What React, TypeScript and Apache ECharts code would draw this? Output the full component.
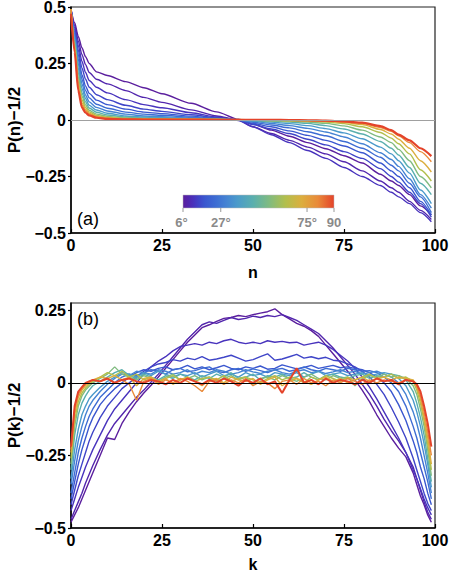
import React, { useEffect, useRef } from "react";
import * as echarts from "echarts";

// ---------- data ----------
const ANGLES = [6, 9, 12, 15, 18, 24, 30, 36, 45, 54, 63, 72, 81, 90];
const COLORS = [
  "#5b1f9e", "#5226ad", "#4833bd", "#3f45c8", "#3a57cf", "#3d6cd3", "#4583d3",
  "#4b9acb", "#5aafae", "#80bb80", "#b2bf4d", "#dcae3e", "#e98a3a", "#e4432a",
];
const BAR_TICKS = [6, 27, 75, 90];
const BAR_LABELS = ["6°", "27°", "75°", "90"];

const N_TOP = [0, 1, 2, 3, 4, 5, 7, 10, 15, 20, 25, 33, 40, 46, 50, 55, 60, 65, 70, 75, 80, 85, 88, 90, 93, 96, 99];
const TOP_06 = [0.49,0.43,0.37,0.32,0.28,0.25,0.213,0.197,0.17,0.143,0.116,0.074,0.036,0.003,-0.018,-0.045,-0.072,-0.1,-0.127,-0.158,-0.19,-0.24,-0.27,-0.29,-0.33,-0.38,-0.42];
const TOP_09 = [0.49,0.42,0.35,0.29,0.245,0.21,0.18,0.16,0.13,0.1,0.078,0.045,0.018,0.0,-0.03,-0.06,-0.09,-0.12,-0.15,-0.185,-0.225,-0.27,-0.3,-0.32,-0.36,-0.4,-0.44];
const TOP_12 = [0.49,0.41,0.33,0.26,0.21,0.175,0.145,0.12,0.09,0.068,0.054,0.032,0.013,-0.002,-0.03,-0.065,-0.1,-0.135,-0.17,-0.21,-0.25,-0.29,-0.32,-0.34,-0.37,-0.41,-0.45];
const TOP_15 = [0.49,0.40,0.31,0.23,0.18,0.145,0.112,0.09,0.065,0.048,0.038,0.023,0.01,0.0,-0.02,-0.04,-0.06,-0.085,-0.11,-0.14,-0.17,-0.215,-0.25,-0.275,-0.32,-0.37,-0.43];
const TOP_18 = [0.49,0.39,0.29,0.2,0.15,0.118,0.088,0.068,0.048,0.035,0.028,0.017,0.007,0.0,-0.015,-0.03,-0.048,-0.068,-0.09,-0.115,-0.145,-0.19,-0.225,-0.25,-0.3,-0.36,-0.42];
const TOP_24 = [0.49,0.38,0.27,0.18,0.13,0.098,0.07,0.052,0.035,0.026,0.021,0.012,0.005,0.0,-0.01,-0.022,-0.035,-0.052,-0.07,-0.095,-0.125,-0.165,-0.2,-0.225,-0.28,-0.34,-0.41];
const TOP_30 = [0.49,0.37,0.25,0.16,0.11,0.08,0.056,0.04,0.026,0.018,0.015,0.008,0.004,0.0,-0.006,-0.015,-0.025,-0.037,-0.053,-0.075,-0.105,-0.145,-0.175,-0.205,-0.26,-0.33,-0.39];
const TOP_36 = [0.49,0.36,0.23,0.14,0.095,0.065,0.044,0.03,0.018,0.013,0.011,0.006,0.003,0.0,-0.004,-0.009,-0.016,-0.025,-0.038,-0.057,-0.083,-0.12,-0.15,-0.18,-0.235,-0.31,-0.37];
const TOP_45 = [0.49,0.35,0.21,0.12,0.08,0.053,0.034,0.022,0.013,0.009,0.007,0.004,0.002,0.001,-0.002,-0.005,-0.009,-0.015,-0.025,-0.04,-0.062,-0.095,-0.125,-0.155,-0.21,-0.28,-0.33];
const TOP_54 = [0.49,0.34,0.19,0.105,0.067,0.043,0.026,0.016,0.009,0.006,0.005,0.003,0.002,0.001,-0.001,-0.003,-0.005,-0.009,-0.015,-0.026,-0.045,-0.075,-0.1,-0.13,-0.18,-0.25,-0.3];
const TOP_63 = [0.49,0.33,0.17,0.09,0.056,0.036,0.02,0.012,0.007,0.005,0.004,0.003,0.002,0.001,0.0,-0.002,-0.003,-0.005,-0.009,-0.016,-0.03,-0.055,-0.08,-0.105,-0.15,-0.22,-0.27];
const TOP_72 = [0.49,0.32,0.155,0.075,0.047,0.03,0.016,0.009,0.005,0.004,0.003,0.003,0.002,0.002,0.001,0.0,-0.002,-0.003,-0.006,-0.011,-0.02,-0.042,-0.062,-0.085,-0.125,-0.18,-0.23];
const TOP_81 = [0.49,0.31,0.14,0.065,0.04,0.025,0.013,0.007,0.004,0.003,0.003,0.002,0.002,0.001,0.001,0.0,-0.001,-0.002,-0.004,-0.008,-0.015,-0.033,-0.05,-0.07,-0.1,-0.14,-0.185];
const TOP_90 = [0.47,0.3,0.13,0.055,0.032,0.02,0.01,0.005,0.003,0.002,0.002,0.002,0.001,0.001,0.001,0.001,0.0,-0.001,-0.003,-0.006,-0.012,-0.027,-0.045,-0.065,-0.09,-0.125,-0.16];

const K_BOT = [0,1,2,3,4,5,6,8,10,12,14,16,18,20,22,24,26,28,30,32,34,36,38,40,42,44,46,48,50,52,54,56,58,60,62,64,66,68,70,72,74,76,78,80,82,84,86,88,90,92,94,95,96,97,98,99];
const BOT_06 = [-0.48,-0.455,-0.43,-0.40,-0.37,-0.34,-0.31, -0.25,-0.19,-0.195,-0.14,-0.1,-0.065,-0.035, -0.008,0.02,0.05,0.08,0.11,0.14,0.165, 0.19,0.2,0.212,0.222,0.225,0.232,0.228, 0.235,0.24,0.245,0.255,0.235,0.22,0.205, 0.195,0.18,0.16,0.13,0.1,0.07,0.04, 0.01,-0.025,-0.065,-0.11,-0.15,-0.19,-0.225, -0.255,-0.31,-0.35,-0.39,-0.42,-0.455,-0.48];
const BOT_09 = [-0.47,-0.44,-0.41,-0.38,-0.345,-0.315,-0.285, -0.23,-0.18,-0.14,-0.11,-0.08,-0.05,-0.025, 0.003,0.03,0.06,0.09,0.12,0.15,0.175, 0.2,0.21,0.205,0.215,0.225,0.218,0.222, 0.23,0.225,0.232,0.228,0.235,0.225,0.215, 0.2,0.185,0.17,0.145,0.12,0.09,0.06, 0.03,-0.005,-0.04,-0.08,-0.125,-0.165,-0.2, -0.24,-0.29,-0.33,-0.37,-0.41,-0.445,-0.47];
const BOT_12 = [-0.44,-0.4,-0.36,-0.325,-0.29,-0.26,-0.23, -0.18,-0.13,-0.09,-0.06,-0.03,0.0,0.03, 0.055,0.075,0.09,0.11,0.125,0.13,0.135, 0.13,0.14,0.135,0.145,0.15,0.14,0.135, 0.14,0.135,0.145,0.14,0.143,0.138,0.14, 0.13,0.135,0.14,0.13,0.115,0.095,0.075, 0.05,0.02,-0.015,-0.055,-0.1,-0.145,-0.19, -0.24,-0.3,-0.33,-0.365,-0.4,-0.43,-0.455];
const BOT_15 = [-0.42,-0.37,-0.32,-0.28,-0.24,-0.2,-0.17, -0.12,-0.08,-0.05,-0.02,0.0,0.02,0.04, 0.055,0.065,0.07,0.08,0.075,0.085,0.08, 0.09,0.078,0.082,0.088,0.095,0.085,0.075, 0.08,0.09,0.1,0.078,0.082,0.09,0.098, 0.085,0.09,0.083,0.088,0.078,0.075,0.065, 0.055,0.04,0.02,-0.005,-0.04,-0.085,-0.135, -0.19,-0.26,-0.3,-0.34,-0.38,-0.415,-0.44];
const BOT_18 = [-0.4,-0.34,-0.28,-0.23,-0.19,-0.15,-0.12, -0.075,-0.045,-0.02,0.0,0.02,0.035,0.045, 0.04,0.05,0.055,0.045,0.05,0.06,0.048, 0.055,0.045,0.052,0.06,0.05,0.045,0.055, 0.05,0.058,0.047,0.05,0.062,0.055,0.048, 0.053,0.06,0.05,0.055,0.06,0.052,0.055, 0.05,0.045,0.035,0.02,0.0,-0.03,-0.075, -0.13,-0.2,-0.24,-0.29,-0.33,-0.38,-0.42];
const BOT_24 = [-0.38,-0.31,-0.24,-0.19,-0.15,-0.115,-0.09, -0.05,-0.025,0.0,0.02,0.03,0.025,0.035, 0.045,0.04,0.03,0.045,0.05,0.038,0.042, 0.05,0.055,0.04,0.035,0.045,0.05,0.04, 0.048,0.042,0.035,0.045,0.05,0.04,0.045, 0.055,0.045,0.04,0.05,0.045,0.04,0.05, 0.045,0.04,0.042,0.035,0.02,0.0,-0.03, -0.08,-0.15,-0.19,-0.24,-0.29,-0.34,-0.4];
const BOT_30 = [-0.35,-0.27,-0.2,-0.15,-0.11,-0.08,-0.06, -0.03,-0.005,0.015,0.03,0.025,0.04,0.035, 0.03,0.045,0.04,0.03,0.035,0.045,0.03, 0.04,0.035,0.045,0.04,0.03,0.035,0.045, 0.038,0.032,0.04,0.045,0.035,0.03,0.04, 0.045,0.035,0.04,0.032,0.038,0.045,0.035, 0.04,0.03,0.035,0.04,0.03,0.02,0.0, -0.04,-0.1,-0.14,-0.19,-0.25,-0.31,-0.38];
const BOT_36 = [-0.33,-0.23,-0.16,-0.11,-0.08,-0.055,-0.04, -0.015,0.005,0.02,0.035,0.03,0.02,0.035, 0.025,0.04,0.03,0.02,0.03,0.025,0.035, 0.02,0.03,0.04,0.025,0.03,0.02,0.035, 0.025,0.03,0.02,0.035,0.03,0.025,0.035, 0.02,0.03,0.04,0.025,0.03,0.035,0.025, 0.03,0.035,0.025,0.03,0.035,0.03,0.015, -0.01,-0.06,-0.1,-0.15,-0.21,-0.28,-0.36];
const BOT_45 = [-0.3,-0.18,-0.11,-0.07,-0.045,-0.025,-0.01, 0.005,0.02,0.035,0.045,0.025,0.015,0.03, 0.02,0.01,0.025,0.015,0.03,0.02,0.01, 0.025,0.015,0.03,0.02,0.035,0.015,0.02, 0.03,0.01,0.025,0.02,0.03,0.015,0.02, 0.035,0.02,0.01,0.025,0.03,0.02,0.015, 0.025,0.03,0.015,0.025,0.02,0.03,0.025, 0.01,-0.03,-0.07,-0.12,-0.18,-0.26,-0.34];
const BOT_54 = [-0.28,-0.15,-0.08,-0.045,-0.025,-0.012,0.0, 0.015,0.03,0.055,0.03,0.02,0.01,0.025, 0.015,0.005,0.02,0.03,0.01,0.015,0.025, 0.01,0.02,0.005,0.015,0.025,0.01,0.02, -0.005,0.015,0.02,0.01,0.025,0.015,0.005, 0.02,0.03,0.015,0.01,0.025,0.015,0.02, -0.01,0.015,0.025,0.02,0.03,0.02,0.025, 0.015,-0.01,-0.04,-0.09,-0.15,-0.23,-0.32];
const BOT_63 = [-0.26,-0.13,-0.065,-0.035,-0.018,-0.005,0.005, 0.02,0.035,0.025,0.04,0.02,0.03,0.01, 0.02,0.0,0.015,0.025,0.01,0.02,0.005, 0.015,0.02,0.01,0.025,0.005,0.015,0.02, 0.01,0.0,0.015,0.025,0.01,0.02,0.015, 0.0,0.02,0.01,0.025,0.015,0.005,0.02, 0.01,0.02,0.03,0.015,0.02,0.03,0.015, 0.02,0.005,-0.025,-0.07,-0.13,-0.21,-0.3];
const BOT_72 = [-0.24,-0.11,-0.05,-0.025,-0.01,0.0,0.01, 0.02,0.015,0.025,0.01,0.02,-0.01,0.015, 0.02,0.005,0.015,-0.005,0.01,0.02,0.005, -0.01,0.01,0.015,0.0,0.02,0.01,0.005, 0.015,-0.005,0.01,0.02,-0.01,0.005,0.015, 0.005,-0.005,0.01,0.02,0.005,0.015,0.0, 0.01,0.02,0.005,0.015,0.02,0.01,0.02, 0.015,0.01,-0.015,-0.055,-0.12,-0.19,-0.28];
const BOT_81 = [-0.23,-0.09,-0.04,-0.02,-0.005,0.005,0.01, 0.005,0.015,0.0,0.01,-0.005,-0.06,0.005, 0.015,-0.005,0.01,0.0,0.015,0.005,-0.01, -0.03,0.005,0.01,-0.005,0.01,0.0,0.015, -0.01,0.005,0.0,-0.02,0.005,0.01,-0.005, 0.015,0.0,0.005,-0.01,0.01,0.0,0.015, 0.005,-0.005,0.01,0.0,0.01,0.005,0.0, 0.01,0.005,-0.01,-0.045,-0.1,-0.17,-0.25];
const BOT_90 = [-0.22,-0.08,-0.03,-0.015,0.0,0.005,0.01, 0.005,0.015,0.0,0.01,0.015,0.005,0.0, 0.01,0.005,-0.005,0.01,0.0,0.015,0.005, -0.005,0.01,0.0,0.015,0.005,-0.01,0.01, 0.0,0.015,-0.005,0.005,-0.035,0.01,0.05, 0.0,0.01,-0.005,0.015,0.0,0.01,0.005, -0.005,0.01,0.0,0.015,0.005,0.01,-0.005, 0.01,0.005,-0.005,-0.03,-0.08,-0.14,-0.22];

const TOP_CURVES = [TOP_06, TOP_09, TOP_12, TOP_15, TOP_18, TOP_24, TOP_30, TOP_36, TOP_45, TOP_54, TOP_63, TOP_72, TOP_81, TOP_90];
const BOT_CURVES = [BOT_06, BOT_09, BOT_12, BOT_15, BOT_18, BOT_24, BOT_30, BOT_36, BOT_45, BOT_54, BOT_63, BOT_72, BOT_81, BOT_90];

const FONT = "'Liberation Sans', Arial, Helvetica, sans-serif";

const fmt = (v: number) => (v === 0 ? "0" : (v < 0 ? "\u2212" : "") + String(Math.abs(v)));

export default function App() {
  const ref = useRef<HTMLDivElement>(null);

  useEffect(() => {
    const chart = echarts.init(ref.current!, null, { renderer: "svg" });

    const G = [
      { left: 71, top: 7, width: 364, height: 226 },
      { left: 71, top: 303, width: 364, height: 225 },
    ];

    const xAxisBase = (name: string, gridIndex: number) => ({
      type: "value",
      gridIndex,
      min: 0,
      max: 100,
      interval: 25,
      name,
      nameLocation: "middle",
      nameGap: gridIndex === 0 ? 31 : 28,
      nameMoveOverlap: false,
      nameTextStyle: { fontFamily: FONT, fontWeight: "bold", fontSize: 16, color: "#000" },
      axisLine: { show: true, onZero: false, lineStyle: { color: "#000", width: 1.5 } },
      axisTick: { show: true, inside: true, length: 4, lineStyle: { color: "#000", width: 1.2 } },
      axisLabel: { margin: 4, fontFamily: FONT, fontWeight: "bold", fontSize: 16, color: "#000" },
      splitLine: { show: false },
    });

    const yTickVals = [-0.5, -0.25, 0, 0.25];

    const yName = { fontFamily: FONT, fontWeight: "bold", fontSize: 17, color: "#000" };

    const option: any = {
      animation: false,
      backgroundColor: "#fff",
      grid: G.map((g) => ({
        ...g,
        containLabel: false,
        outerBoundsMode: "none",
        show: true,
        borderColor: "#222",
        borderWidth: 1.2,
        backgroundColor: "transparent",
      })),
      xAxis: [xAxisBase("n", 0), xAxisBase("k", 1)],
      yAxis: [
        {
          type: "value",
          gridIndex: 0,
          min: -0.5,
          max: 0.5,
          interval: 0.25,
          name: "P(n)\u22121/2",
          nameLocation: "middle",
          nameRotate: 90,
          nameGap: 48,
          nameMoveOverlap: false,
          nameTextStyle: yName,
          axisLine: { show: true, onZero: false, lineStyle: { color: "#000", width: 1.5 } },
          axisTick: { show: true, inside: false, length: 3, lineStyle: { color: "#000", width: 1.2 } },
          axisLabel: { margin: 5, fontFamily: FONT, fontWeight: "bold", fontSize: 16, color: "#000", formatter: fmt },
          splitLine: { show: false },
        },
        {
          type: "value",
          gridIndex: 1,
          min: -0.5,
          max: 0.275,
          name: "P(k)\u22121/2",
          nameLocation: "middle",
          nameRotate: 90,
          nameGap: 48,
          nameMoveOverlap: false,
          nameTextStyle: yName,
          axisLine: { show: true, onZero: false, lineStyle: { color: "#000", width: 1.5 } },
          axisTick: { show: true, inside: false, length: 3, customValues: yTickVals, lineStyle: { color: "#000", width: 1.2 } },
          axisLabel: { margin: 5, fontFamily: FONT, fontWeight: "bold", fontSize: 16, color: "#000", formatter: fmt, customValues: yTickVals },
          splitLine: { show: false },
        },
      ],
      series: [
        ...TOP_CURVES.map((vals, i) => ({
          type: "line",
          name: "top" + ANGLES[i],
          xAxisIndex: 0,
          yAxisIndex: 0,
          data: N_TOP.map((n, j) => [n, vals[j]]),
          symbol: "none",
          smooth: 0.25,
          smoothMonotone: "x",
          silent: true,
          clip: true,
          lineStyle: { color: COLORS[i], width: i === 13 ? 2.2 : 1.4 },
          markLine:
            i === 0
              ? {
                  silent: true,
                  symbol: ["none", "none"],
                  label: { show: false },
                  lineStyle: { color: "#a0a0a0", width: 1, type: "solid" },
                  data: [{ yAxis: 0 }],
                }
              : undefined,
        })),
        ...BOT_CURVES.map((vals, i) => ({
          type: "line",
          name: "bot" + ANGLES[i],
          xAxisIndex: 1,
          yAxisIndex: 1,
          data: K_BOT.map((k, j) => [k, vals[j]]),
          symbol: "none",
          silent: true,
          clip: true,
          lineStyle: { color: COLORS[i], width: i === 13 ? 2 : 1.4 },
          markLine:
            i === 0
              ? {
                  silent: true,
                  symbol: ["none", "none"],
                  label: { show: false },
                  lineStyle: { color: "#000", width: 1, type: "solid" },
                  data: [{ yAxis: 0 }],
                }
              : undefined,
        })),
      ],
      graphic: [],
    };

    // colour bar
    const barX0 = 183;
    const barX1 = 334;
    const degToX = (d: number) => barX0 + ((d - ANGLES[0]) / (ANGLES[ANGLES.length - 1] - ANGLES[0])) * (barX1 - barX0);
    const stops = ANGLES.map((a, i) => ({ offset: (a - ANGLES[0]) / (ANGLES[ANGLES.length - 1] - ANGLES[0]), color: COLORS[i] }));
    const graphics: any[] = [
      {
        type: "rect",
        shape: { x: barX0, y: 195, width: barX1 - barX0, height: 13 },
        style: { fill: new echarts.graphic.LinearGradient(0, 0, 1, 0, stops), stroke: "#bbb", lineWidth: 0.5 },
        z: 100,
      },
    ];
    BAR_TICKS.forEach((d, i) => {
      const x = degToX(d);
      graphics.push({
        type: "line",
        shape: { x1: x, y1: 208, x2: x, y2: 212 },
        style: { stroke: "#999", lineWidth: 1 },
        z: 100,
      });
      graphics.push({
        type: "text",
        x: x - (i === 0 ? 1.5 : 0),
        y: 222.5,
        style: {
          text: BAR_LABELS[i],
          fill: "#8a8a8a",
          font: "bold 13px " + FONT,
          textAlign: "center",
          textVerticalAlign: "middle",
        },
        z: 100,
      });
    });
    graphics.push({
      type: "text",
      x: 77,
      y: 219,
      style: { text: "(a)", fill: "#000", font: "18px " + FONT, textAlign: "left", textVerticalAlign: "middle" },
      z: 100,
    });
    graphics.push({
      type: "text",
      x: 77,
      y: 319,
      style: { text: "(b)", fill: "#000", font: "18px " + FONT, textAlign: "left", textVerticalAlign: "middle" },
      z: 100,
    });
    option.graphic = graphics;

    chart.setOption(option);
    return () => chart.dispose();
  }, []);

  return <div ref={ref} style={{ position: "absolute", left: 0, top: 0, width: 450, height: 573 }} />;
}
